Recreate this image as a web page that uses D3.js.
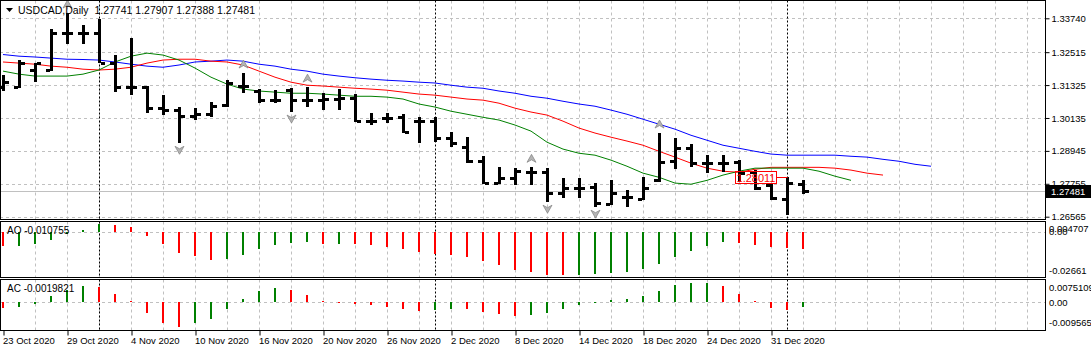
<!DOCTYPE html>
<html>
<head>
<meta charset="utf-8">
<script src="https://cdn.jsdelivr.net/npm/d3@7"></script>
<style>
body { margin: 0; background: #fff; }
svg { display: block; font-family: "Liberation Sans", Arial, sans-serif; font-size: 9.5px; }
</style>
</head>
<body>
<div id="chart"></div>
<script>
const width = 1091, height = 351, plotRight = 1045;

// trading days shown on the chart
const dates = ["2020-10-23","2020-10-26","2020-10-27","2020-10-28","2020-10-29","2020-10-30",
  "2020-11-02","2020-11-03","2020-11-04","2020-11-05","2020-11-06","2020-11-09","2020-11-10","2020-11-11","2020-11-12","2020-11-13",
  "2020-11-16","2020-11-17","2020-11-18","2020-11-19","2020-11-20","2020-11-23","2020-11-24","2020-11-25","2020-11-26","2020-11-27","2020-11-30",
  "2020-12-01","2020-12-02","2020-12-03","2020-12-04","2020-12-07","2020-12-08","2020-12-09","2020-12-10","2020-12-11",
  "2020-12-14","2020-12-15","2020-12-16","2020-12-17","2020-12-18","2020-12-21","2020-12-22","2020-12-23","2020-12-24",
  "2020-12-28","2020-12-29","2020-12-30","2020-12-31","2021-01-04","2021-01-05"];

const open = [1.3125,1.3125,1.3187,1.3187,1.3321,1.3321,1.3321,1.3212,1.3125,1.3125,1.3049,1.3042,1.3020,1.3027,1.3060,1.3129,1.3111,1.3078,1.3114,1.3078,1.3078,1.3082,1.3085,1.3002,1.3013,1.3016,1.3002,1.3002,1.2940,1.2908,1.2857,1.2778,1.2796,1.2817,1.2817,1.2741,1.2759,1.2763,1.2702,1.2727,1.2720,1.2788,1.2857,1.2904,1.2850,1.2850,1.2854,1.2817,1.2770,1.2720,1.27741];
const high = [1.3169,1.3223,1.3212,1.3335,1.3393,1.3350,1.3371,1.3241,1.3302,1.3129,1.3096,1.3053,1.3049,1.3071,1.3150,1.3176,1.3118,1.3114,1.3121,1.3125,1.3103,1.3118,1.3100,1.3031,1.3031,1.3027,1.3016,1.3016,1.2962,1.2944,1.2875,1.2835,1.2832,1.2835,1.2832,1.2796,1.2796,1.2778,1.2788,1.2752,1.2799,1.2959,1.2940,1.2919,1.2879,1.2879,1.2861,1.2825,1.2778,1.2799,1.27907];
const low = [1.3111,1.3121,1.3143,1.3183,1.3281,1.3281,1.3212,1.3107,1.3096,1.3031,1.3024,1.2922,1.3006,1.3016,1.3053,1.3103,1.3067,1.3067,1.3035,1.3053,1.3042,1.3042,1.2998,1.2988,1.2995,1.2959,1.2922,1.2926,1.2908,1.2850,1.2774,1.2774,1.2770,1.2770,1.2709,1.2723,1.2723,1.2691,1.2698,1.2691,1.2716,1.2781,1.2828,1.2835,1.2814,1.2817,1.2781,1.2752,1.2716,1.2662,1.27388];
const close = [1.3143,1.3212,1.3212,1.3321,1.3321,1.3321,1.3212,1.3125,1.3125,1.3049,1.3042,1.3020,1.3027,1.3056,1.3140,1.3129,1.3078,1.3078,1.3078,1.3078,1.3082,1.3085,1.3002,1.3002,1.3013,1.2962,1.3002,1.2940,1.2922,1.2857,1.2778,1.2796,1.2821,1.2817,1.2741,1.2759,1.2759,1.2705,1.2741,1.2727,1.2759,1.2854,1.2904,1.2850,1.2850,1.2850,1.2814,1.2759,1.2723,1.2778,1.27481];

// alligator lines (already shifted forward on the chart)
const jaw = [1.3243,1.3237,1.3234,1.3230,1.3226,1.3225,1.3223,1.3216,1.3208,1.3201,1.3197,1.3205,1.3216,1.3219,1.3223,1.3219,1.3208,1.3201,1.3190,1.3183,1.3172,1.3165,1.3159,1.3154,1.3150,1.3147,1.3143,1.3140,1.3132,1.3125,1.3121,1.3111,1.3103,1.3092,1.3085,1.3074,1.3064,1.3056,1.3042,1.3027,1.3009,1.2991,1.2973,1.2951,1.2933,1.2915,1.2904,1.2893,1.2883,1.2879,1.2879,1.2879,1.2879,1.2875,1.2872,1.2864,1.2857,1.2846,1.2839];
const teeth = [1.3216,1.3212,1.3208,1.3201,1.3197,1.3190,1.3187,1.3190,1.3197,1.3212,1.3223,1.3226,1.3226,1.3219,1.3216,1.3205,1.3183,1.3161,1.3143,1.3132,1.3129,1.3125,1.3121,1.3118,1.3114,1.3107,1.3100,1.3096,1.3089,1.3082,1.3078,1.3067,1.3049,1.3035,1.3024,1.3002,1.2977,1.2959,1.2944,1.2930,1.2915,1.2893,1.2872,1.2850,1.2832,1.2821,1.2817,1.2828,1.2835,1.2835,1.2835,1.2835,1.2832,1.2825,1.2814,1.2807];
const lips = [1.3183,1.3172,1.3165,1.3165,1.3165,1.3172,1.3187,1.3216,1.3237,1.3248,1.3241,1.3223,1.3194,1.3161,1.3136,1.3118,1.3111,1.3107,1.3103,1.3103,1.3100,1.3096,1.3092,1.3092,1.3089,1.3082,1.3064,1.3053,1.3038,1.3027,1.3016,1.3006,1.2988,1.2966,1.2926,1.2901,1.2886,1.2879,1.2861,1.2839,1.2814,1.2799,1.2778,1.2774,1.2788,1.2807,1.2821,1.2832,1.2832,1.2832,1.2832,1.2821,1.2803,1.2788];

const ao = [-0.0085,-0.0084,-0.0077,-0.0048,-0.0015,0.0010,0.0047,0.0043,0.0030,-0.0023,-0.0075,-0.0128,-0.0149,-0.0172,-0.0165,-0.0143,-0.0106,-0.0081,-0.0069,-0.0061,-0.0075,-0.0073,-0.0075,-0.0081,-0.0093,-0.0106,-0.0124,-0.0136,-0.0143,-0.0155,-0.0180,-0.0204,-0.0235,-0.0248,-0.0264,-0.02661,-0.0265,-0.0260,-0.0254,-0.0248,-0.0229,-0.0198,-0.0155,-0.0118,-0.0087,-0.0062,-0.0069,-0.0081,-0.0093,-0.0102,-0.010755];
const ac = [-0.0024,-0.0017,-0.0007,0.0024,0.0047,0.0064,0.0060,0.0032,0.0005,-0.0043,-0.0079,-0.009565,-0.0081,-0.0066,-0.0027,0.0012,0.0043,0.0056,0.0047,0.0028,0.0006,-0.0002,-0.0008,-0.0011,-0.0018,-0.0026,-0.0034,-0.0030,-0.0026,-0.0027,-0.0038,-0.0045,-0.0053,-0.0049,-0.0042,-0.0026,-0.0011,-0.0002,0.0008,0.0013,0.0024,0.0043,0.0066,0.0074,0.0075109,0.0062,0.0032,0.0005,-0.0022,-0.0030,-0.0019821];

const upFractals = [4, 15, 19, 33, 41];
const downFractals = [11, 18, 34, 37];

const priceTicks = [1.33740, 1.32515, 1.31325, 1.30135, 1.28945, 1.27755, 1.26565];
const aoTicks = [0.004707, 0, -0.02661];
const acTicks = [0.0075109, 0, -0.009565];
const lastPrice = 1.27481;
const markLevel = 1.28011;

const parseDate = d3.timeParse("%Y-%m-%d");
const fmtDate = d3.timeFormat("%-d %b %Y");

const svg = d3.select("#chart").append("svg")
    .attr("width", width)
    .attr("height", height);

const x = d3.scaleLinear().domain([0, 50]).range([3, 803]);
const yPrice = d3.scaleLinear().domain([1.26565, 1.33740]).range([216.7, 18.3]);
const yAO = d3.scaleLinear().domain([-0.02661, 0.004707]).range([275, 224.3]);
const yAC = d3.scaleLinear().domain([-0.009565, 0.0075109]).range([327, 282.7]);

const panels = [
    { top: 0.5, bottom: 219.5, zero: null },
    { top: 221.5, bottom: 277.5, zero: yAO(0) },
    { top: 279.5, bottom: 330.5, zero: yAC(0) }
];

const gridIdx = d3.range(2, 65, 2);
const sepIdx = dates.map((d, i) => i).filter(i => i > 0 && dates[i].slice(5, 7) !== dates[i - 1].slice(5, 7));

svg.append("clipPath").attr("id", "mainClip")
    .append("rect").attr("x", 0).attr("y", 0.5).attr("width", plotRight).attr("height", 219);

// grids and separators
panels.forEach(p => {
    svg.append("g").selectAll("line").data(gridIdx).join("line")
        .attr("x1", d => x(d) + 0.5).attr("x2", d => x(d) + 0.5)
        .attr("y1", p.top).attr("y2", p.bottom)
        .attr("stroke", "#c0c0c0").attr("stroke-dasharray", "3,3");
    if (p.zero !== null) {
        svg.append("line")
            .attr("x1", 0).attr("x2", plotRight)
            .attr("y1", Math.round(p.zero) + 0.5).attr("y2", Math.round(p.zero) + 0.5)
            .attr("stroke", "#c0c0c0").attr("stroke-dasharray", "3,3");
    }
});

svg.append("g").selectAll("line").data(priceTicks).join("line")
    .attr("x1", 0).attr("x2", plotRight)
    .attr("y1", d => Math.round(yPrice(d)) + 0.5).attr("y2", d => Math.round(yPrice(d)) + 0.5)
    .attr("stroke", "#c0c0c0").attr("stroke-dasharray", "3,3");

// bid line
svg.append("line")
    .attr("x1", 0).attr("x2", plotRight)
    .attr("y1", Math.round(yPrice(lastPrice)) + 0.5).attr("y2", Math.round(yPrice(lastPrice)) + 0.5)
    .attr("stroke", "#c0c0c0");

panels.forEach(p => {
    svg.append("g").selectAll("line").data(sepIdx).join("line")
        .attr("x1", d => x(d) + 0.5).attr("x2", d => x(d) + 0.5)
        .attr("y1", p.top).attr("y2", p.bottom)
        .attr("stroke", "#000").attr("stroke-dasharray", "2,2");
});

// alligator
const main = svg.append("g").attr("clip-path", "url(#mainClip)");
const line = d3.line().x((d, i) => x(i)).y(d => yPrice(d));
[[jaw, "#0000ff"], [teeth, "#ff0000"], [lips, "#008000"]].forEach(([s, c]) => {
    main.append("path").datum(s)
        .attr("d", line)
        .attr("fill", "none")
        .attr("stroke", c)
        .attr("stroke-width", 1);
});

// OHLC bars
const bars = main.append("g").attr("fill", "#000").attr("shape-rendering", "crispEdges");
open.forEach((o, i) => {
    const cx = x(i);
    const yh = Math.round(yPrice(high[i])), yl = Math.round(yPrice(low[i]));
    bars.append("rect").attr("x", cx - 1).attr("y", yh).attr("width", 3).attr("height", Math.max(yl - yh, 1));
    bars.append("rect").attr("x", cx - 5).attr("y", Math.round(yPrice(o)) - 1).attr("width", 4).attr("height", 3);
    bars.append("rect").attr("x", cx + 2).attr("y", Math.round(yPrice(close[i])) - 1).attr("width", 4).attr("height", 3);
});

// fractals
const upArrow = "M0,-4L4.5,4L0,1.5L-4.5,4Z";
const downArrow = "M0,4L4.5,-4L0,-1.5L-4.5,-4Z";
main.append("g").selectAll("path").data(upFractals).join("path")
    .attr("d", upArrow)
    .attr("transform", d => `translate(${x(d) + 0.5},${yPrice(high[d]) - 9})`)
    .attr("fill", "#b4b4b4").attr("stroke", "#808080").attr("stroke-width", 0.7);
main.append("g").selectAll("path").data(downFractals).join("path")
    .attr("d", downArrow)
    .attr("transform", d => `translate(${x(d) + 0.5},${yPrice(low[d]) + 7})`)
    .attr("fill", "#b4b4b4").attr("stroke", "#808080").attr("stroke-width", 0.7);

// price label object
const ym = Math.round(yPrice(markLevel)) + 0.5;
main.append("line")
    .attr("x1", x(48) + 6).attr("x2", x(49) + 0.5)
    .attr("y1", ym).attr("y2", ym)
    .attr("stroke", "#ff0000");
main.append("rect")
    .attr("x", x(46) - 3.5).attr("y", ym - 6)
    .attr("width", 41).attr("height", 12)
    .attr("fill", "none").attr("stroke", "#ff0000");
main.append("text")
    .attr("x", x(46) + 17).attr("y", ym + 4)
    .attr("text-anchor", "middle")
    .attr("fill", "#ff0000")
    .style("font-size", "11px")
    .text(markLevel.toFixed(5));

// AO / AC histograms
function histogram(values, y) {
    const g = svg.append("g").attr("shape-rendering", "crispEdges");
    const y0 = Math.round(y(0));
    g.selectAll("rect").data(values).join("rect")
        .attr("x", (d, i) => x(i) - 1)
        .attr("width", 2)
        .attr("y", d => Math.round(Math.min(y(d), y0)))
        .attr("height", d => Math.max(Math.abs(Math.round(y(d)) - y0), 1))
        .attr("fill", (d, i) => i > 0 && d > values[i - 1] ? "#008000" : "#ff0000");
}
histogram(ao, yAO);
histogram(ac, yAC);

// borders
panels.forEach(p => {
    svg.append("rect")
        .attr("x", 0.5).attr("y", p.top)
        .attr("width", plotRight).attr("height", p.bottom - p.top)
        .attr("fill", "none").attr("stroke", "#000");
});

// price axis
const yAxis = svg.append("g")
    .attr("transform", `translate(${plotRight + 0.5},0)`)
    .call(d3.axisRight(yPrice).tickValues(priceTicks).tickSize(4).tickPadding(2).tickFormat(d3.format(".5f")));
yAxis.select(".domain").remove();
yAxis.selectAll("text").style("font-size", "9.5px").style("font-family", "Liberation Sans, Arial, sans-serif").attr("fill", "#000");

const yl = yPrice(lastPrice);
svg.append("rect").attr("x", plotRight + 1).attr("y", Math.round(yl) - 6).attr("width", 45).attr("height", 13).attr("fill", "#000");
svg.append("text").attr("x", plotRight + 6).attr("y", Math.round(yl) + 4).attr("fill", "#fff").text(lastPrice.toFixed(5));

// sub-window scales
function subLabels(ticks, y, fmt) {
    svg.append("g").selectAll("text").data(ticks).join("text")
        .attr("x", plotRight + 4)
        .attr("y", (d, i) => y(d) + (i === 0 ? 4.5 : i === 2 ? -4.5 : 0))
        .attr("dy", "0.35em")
        .attr("fill", "#000")
        .text((d, i) => fmt[i]);
}
subLabels(aoTicks, yAO, ["0.004707", "0.00", "-0.02661"]);
subLabels(acTicks, yAC, ["0.0075109", "0.00", "-0.009565"]);

// time axis
const tickIdx = d3.range(0, dates.length, 4).filter(i => i <= 48);
const xAxis = svg.append("g")
    .attr("transform", `translate(0.5,${panels[2].bottom})`)
    .call(d3.axisBottom(x).tickValues(tickIdx).tickSize(5).tickPadding(2).tickFormat(i => fmtDate(parseDate(dates[i]))));
xAxis.select(".domain").remove();
xAxis.selectAll("text").attr("text-anchor", "start").attr("x", -1)
    .style("font-size", "9.5px").style("font-family", "Liberation Sans, Arial, sans-serif").attr("fill", "#000");

// titles
const last = open.length - 1;
svg.append("path").attr("d", "M6,8L13,8L9.5,12Z").attr("fill", "#000");
svg.append("text").attr("x", 18).attr("y", 14).attr("fill", "#000").attr("xml:space", "preserve")
    .style("font-size", "10.5px")
    .text(`USDCAD,Daily  ${open[last].toFixed(5)} ${high[last].toFixed(5)} ${low[last].toFixed(5)} ${close[last].toFixed(5)}`);
svg.append("text").attr("x", 7).attr("y", 234).attr("fill", "#000").style("font-size", "10px").text(`AO ${ao[last]}`);
svg.append("text").attr("x", 7).attr("y", 292).attr("fill", "#000").style("font-size", "10px").text(`AC ${ac[last]}`);
</script>
</body>
</html>
